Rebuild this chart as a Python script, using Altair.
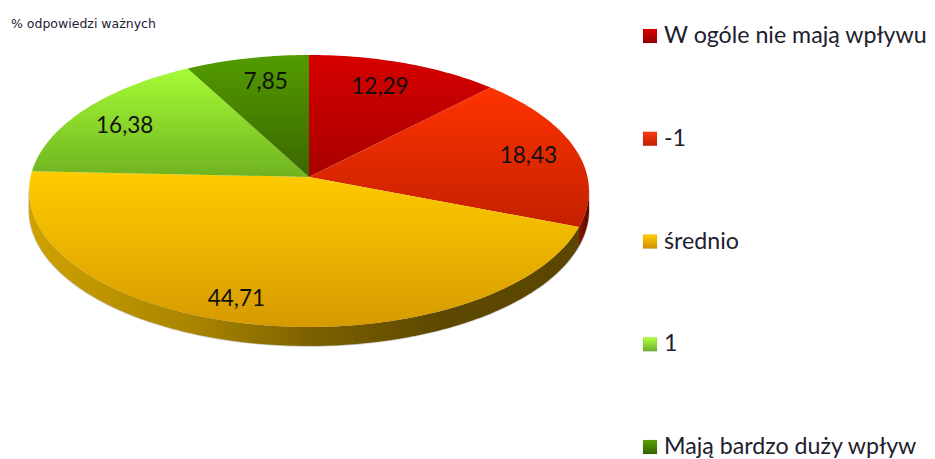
import cmath, math
import altair as alt

# ---- values
categories = ["W ogóle nie mają wpływu", "-1", "średnio", "1", "Mają bardzo duży wpływ"]
values = [12.29, 18.43, 44.71, 16.38, 7.85]
labels = ["12,29", "18,43", "44,71", "16,38", "7,85"]
title_text = "% odpowiedzi ważnych"

# ---- styles
face_stops = [("#d60000", "#a80000"), ("#ff3300", "#c42000"), ("#ffcc00", "#d69a00"),
              ("#a6fb36", "#6fb320"), ("#529c00", "#3c6600")]
legend_stops = [("#e00000", "#8f0000"), ("#ff3a10", "#c02000"), ("#ffd000", "#d09000"),
                ("#b0ff40", "#70b030"), ("#5aa000", "#386000")]
wall_stops = {
    1: [("#8a1200", 0), ("#5e0a00", 1)],
    2: [("#cfa200", 0), ("#a88400", 0.3), ("#7c6000", 0.52), ("#5c4800", 0.75), ("#5a4600", 1)],
}
label_fraction = [0.77, 0.82, 0.82, 0.81, 0.78]
label_nudge = [(-3, -2), (1, 2), (-21, 2), (-3, 4), (5, -2)]

# ---- tilted disc geometry, in units of the long radius
ASPECT = 136 / 280
APEX_SHIFT = 14 / 280      # the slices' meeting point sits above the ellipse's centre
PULL = 0.0516              # perspective pull of the rim towards the viewer's far side
DEPTH = 19 / 280
SCALE = 280
CENTER = (301, 183)        # ellipse centre inside the plot area


def rim_angle(theta):
    z = cmath.exp(1j * theta)
    a = cmath.phase((z + PULL) / (1 + PULL * z))
    return a if a >= -1e-9 else a + 2 * math.pi


def rim(t, drop=0.0):
    return [math.sin(t), ASPECT * math.cos(t) - drop]


def arc(t0, t1, drop=0.0):
    n = max(2, int(abs(t1 - t0) / math.radians(1)))
    return [rim(t0 + (t1 - t0) * i / n, drop) for i in range(n + 1)]


def feature(points):
    return {"type": "Feature", "properties": {},
            "geometry": {"type": "Polygon", "coordinates": [points + [points[0]]]}}


total = sum(values)
edges = [0.0]
for v in values:
    edges.append(edges[-1] + v / total * 2 * math.pi)
t_edges = [rim_angle(e) for e in edges[:-1]] + [2 * math.pi]
apex = [0.0, APEX_SHIFT]

projection = alt.Projection(type="identity", reflectY=True, scale=SCALE, translate=list(CENTER))


def vgrad(top, bottom):
    return alt.Gradient(gradient="linear", x1=0, x2=0, y1=0, y2=1,
                        stops=[alt.GradientStop(color=top, offset=0),
                               alt.GradientStop(color=bottom, offset=1)])


def hgrad(stops):
    return alt.Gradient(gradient="linear", x1=0, x2=1, y1=0, y2=0,
                        stops=[alt.GradientStop(color=c, offset=o) for c, o in stops])


layers = []

# soft edge under the side wall
shadow = arc(math.pi / 2, 3 * math.pi / 2) + arc(3 * math.pi / 2, math.pi / 2, DEPTH)
layers.append(alt.Chart(alt.Data(values=[feature(shadow)])).mark_geoshape(
    fill="#888888", stroke="#777777", strokeWidth=1.6, opacity=0.35).project(**projection.to_dict()))

# side wall of the disc, only on the front half
for i, stops in wall_stops.items():
    t0 = max(t_edges[i], math.pi / 2)
    t1 = min(t_edges[i + 1], 3 * math.pi / 2)
    pts = arc(t0, t1) + arc(t1, t0, DEPTH)
    layers.append(alt.Chart(alt.Data(values=[feature(pts)])).mark_geoshape(
        fill=hgrad(stops), stroke="transparent", strokeWidth=0).project(**projection.to_dict()))

# top faces
for i in range(len(values)):
    pts = [apex] + arc(t_edges[i], t_edges[i + 1])
    layers.append(alt.Chart(alt.Data(values=[feature(pts)])).mark_geoshape(
        fill=vgrad(*face_stops[i]), stroke="transparent", strokeWidth=0).project(**projection.to_dict()))

# slice labels
for i, text in enumerate(labels):
    mid = rim_angle((edges[i] + edges[i + 1]) / 2)
    p = rim(mid)
    f = label_fraction[i]
    row = {"lon": apex[0] + f * (p[0] - apex[0]), "lat": apex[1] + f * (p[1] - apex[1]), "label": text}
    layers.append(alt.Chart(alt.Data(values=[row])).mark_text(
        font="Lato", fontSize=22.5, color="#111111", dx=label_nudge[i][0], dy=label_nudge[i][1],
        align="center", baseline="middle").encode(
        longitude="lon:Q", latitude="lat:Q", text="label:N").project(**projection.to_dict()))

# legend
legend_y = alt.Y("cat:N", axis=None, scale=alt.Scale(domain=categories, type="point", range=[28, 439], padding=0))
for i, c in enumerate(categories):
    layers.append(alt.Chart(alt.Data(values=[{"cat": c}])).mark_square(
        size=196, filled=True, fill=vgrad(*legend_stops[i]), stroke="#00000022", strokeWidth=0.5, opacity=1).encode(
        x=alt.value(642), y=legend_y))
    layers.append(alt.Chart(alt.Data(values=[{"cat": c}])).mark_text(
        font="Lato", fontSize=23.2, color="#20202e", align="left", baseline="middle").encode(
        x=alt.value(656), y=legend_y, text="cat:N"))

# small caption
layers.append(alt.Chart(alt.Data(values=[{"t": title_text}])).mark_text(
    font="DejaVu Sans", fontSize=12.5, color="#222233", align="left", baseline="middle").encode(
    x=alt.value(3), y=alt.value(15.5), text="t:N"))

chart = alt.layer(*layers).properties(width=919, height=451, padding=0, background="white",
                                      autosize=alt.AutoSizeParams(type="none")).configure_view(stroke=None)
chart.save("out.html", embed_options={"renderer": "svg", "actions": False})
